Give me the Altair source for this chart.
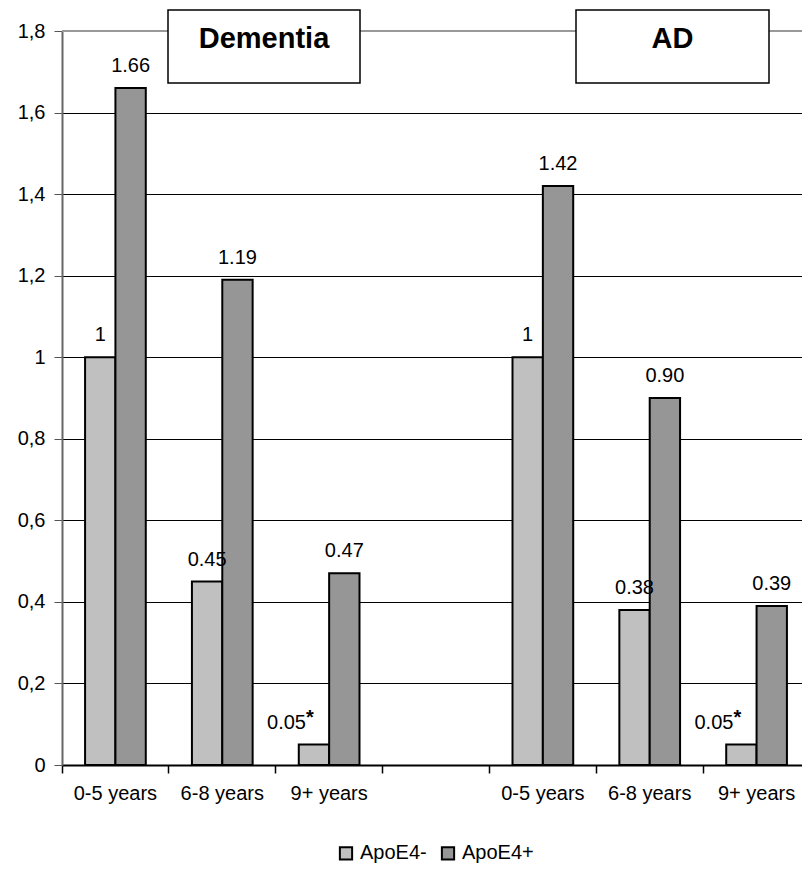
import json
import altair as alt
import pandas as pd

# ---- data ----
slots = ["D1", "D2", "D3", "gap", "A1", "A2", "A3"]
x_labels = ["0-5 years", "6-8 years", "9+ years", "", "0-5 years", "6-8 years", "9+ years"]
bar_slots = ["D1", "D2", "D3", "A1", "A2", "A3"]
series = ["ApoE4-", "ApoE4+"]
apoe_neg = [1, 0.45, 0.05, 1, 0.38, 0.05]
apoe_pos = [1.66, 1.19, 0.47, 1.42, 0.90, 0.39]
neg_labels = ["1", "0.45", "0.05", "1", "0.38", "0.05"]
pos_labels = ["1.66", "1.19", "0.47", "1.42", "0.90", "0.39"]
neg_sig = ["", "", "*", "", "", "*"]
pos_sig = ["", "", "", "", "", ""]
panel_titles = ["Dementia", "AD"]
y_ticks = [0, 0.2, 0.4, 0.6, 0.8, 1.0, 1.2, 1.4, 1.6, 1.8]

rows = []
for i, s in enumerate(bar_slots):
    rows.append({"slot": s, "series": series[0], "value": apoe_neg[i],
                 "label": neg_labels[i], "sig": neg_sig[i]})
    rows.append({"slot": s, "series": series[1], "value": apoe_pos[i],
                 "label": pos_labels[i], "sig": pos_sig[i]})
df = pd.DataFrame(rows)

FONT = "Liberation Sans"
label_expr = f"{json.dumps(x_labels)}[indexof({json.dumps(slots)}, datum.value)]"

x_enc = alt.X("slot:N",
              scale=alt.Scale(domain=slots, paddingInner=0, paddingOuter=0),
              sort=slots,
              axis=alt.Axis(title=None, labelExpr=label_expr, labelAngle=0,
                            labelFontSize=20, labelFont=FONT, labelColor="black",
                            labelPadding=10, bandPosition=0, tickSize=8,
                            tickColor="black", tickWidth=1.5, domainColor="black",
                            domainWidth=2, grid=False))
xo_enc = alt.XOffset("series:N",
                     scale=alt.Scale(domain=series, paddingOuter=0.76, paddingInner=0))
y_enc = alt.Y("value:Q",
              scale=alt.Scale(domain=[0, 1.8], nice=False),
              axis=alt.Axis(title=None, values=y_ticks,
                            labelExpr="replace(format(datum.value, '.1~f'), '.', ',')",
                            labelFontSize=20, labelFont=FONT, labelColor="black",
                            labelPadding=9, tickSize=8, tickColor="#555555",
                            domainColor="#666666", domainWidth=2,
                            grid=True, gridColor="black", gridWidth=1))

base = alt.Chart(df)

bars = base.mark_bar(stroke="black", strokeWidth=2).encode(
    x=x_enc, xOffset=xo_enc, y=y_enc,
    color=alt.Color("series:N",
                    scale=alt.Scale(domain=series, range=["#C0C0C0", "#969696"]),
                    legend=alt.Legend(title=None, orient="none", direction="horizontal",
                                      legendX=274, legendY=812, symbolType="square",
                                      symbolSize=150, symbolStrokeColor="black",
                                      symbolStrokeWidth=2, labelFontSize=20,
                                      labelFont=FONT, labelColor="black",
                                      labelOffset=4, columnPadding=10)),
)

plain_labels = base.transform_filter("datum.sig == ''").mark_text(
    baseline="middle", dy=-22, fontSize=20, font=FONT, color="black"
).encode(x="slot:N", xOffset=xo_enc, y="value:Q", text="label:N")

sig_labels = base.transform_filter("datum.sig != ''").mark_text(
    baseline="middle", align="right", dx=-8, dy=-22, fontSize=20, font=FONT, color="black"
).encode(x="slot:N", xOffset=xo_enc, y="value:Q", text="label:N")

sig_marks = base.transform_filter("datum.sig != ''").mark_text(
    baseline="middle", align="left", dx=-8, dy=-27, fontSize=20, font=FONT,
    fontWeight="bold", color="black"
).encode(x="slot:N", xOffset=xo_enc, y="value:Q", text="sig:N")

top_rule = alt.Chart(pd.DataFrame({"value": [1.8]})).mark_rule(
    color="#999999", strokeWidth=2
).encode(y="value:Q")

# panel title boxes (annotations)
box_px = {"Dementia": (106, 298), "AD": (514, 707)}
title_layers = []
for t in panel_titles:
    x0, x1 = box_px[t]
    tdf = pd.DataFrame({"t": [t]})
    title_layers.append(
        alt.Chart(tdf).mark_rect(fill="white", stroke="black", strokeWidth=1.5).encode(
            x=alt.value(x0), x2=alt.value(x1), y=alt.value(-21), y2=alt.value(52)))
    title_layers.append(
        alt.Chart(tdf).mark_text(fontSize=29, fontWeight="bold", font=FONT,
                                 color="black", baseline="middle", align="center").encode(
            x=alt.value((x0 + x1) / 2), y=alt.value(8), text="t:N"))

chart = alt.layer(top_rule, bars, plain_labels, sig_labels, sig_marks, *title_layers).properties(
    width=748, height=734,
    autosize=alt.AutoSizeParams(type="none"),
    padding={"left": 54, "top": 23, "right": -8, "bottom": 98},
).configure_view(stroke="transparent").configure(background="white")

chart.save("out.html", embed_options={"renderer": "svg", "actions": False})
